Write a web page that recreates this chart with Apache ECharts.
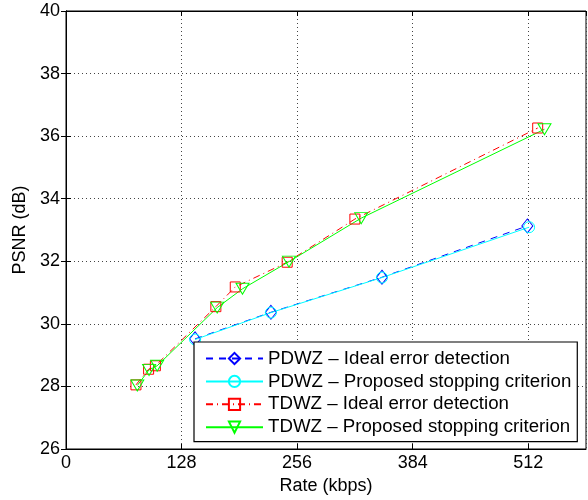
<!DOCTYPE html>
<html>
<head>
<meta charset="utf-8">
<script src="https://cdn.jsdelivr.net/npm/echarts@6/dist/echarts.min.js"></script>
<style>
html, body { margin: 0; padding: 0; background: #fff; }
#main { width: 588px; height: 500px; }
</style>
</head>
<body>
<div id="main"></div>
<script>
// values (rate in kbps, PSNR in dB)
var pdwzIdealRate = [143, 227, 350, 511];
var pdwzIdealPsnr = [29.52, 30.37, 31.49, 33.13];
var pdwzPropRate = [143, 227, 350, 513];
var pdwzPropPsnr = [29.50, 30.36, 31.48, 33.09];
var tdwzIdealRate = [77.5, 91.5, 99, 166, 187.5, 245, 320, 522.5];
var tdwzIdealPsnr = [28.05, 28.55, 28.66, 30.55, 31.18, 31.97, 33.35, 36.26];
var tdwzPropRate = [79, 92, 101, 167.5, 195.5, 247, 327, 530];
var tdwzPropPsnr = [28.03, 28.53, 28.66, 30.52, 31.12, 31.99, 33.38, 36.22];

var seriesNames = [
	'PDWZ \u2013 Ideal error detection',
	'PDWZ \u2013 Proposed stopping criterion',
	'TDWZ \u2013 Ideal error detection',
	'TDWZ \u2013 Proposed stopping criterion'
];

function pairs(xs, ys) {
	var out = [];
	for (var i = 0; i < xs.length; i++) {
		out.push([xs[i], ys[i]]);
	}
	return out;
}

var font = 'Liberation Sans';
var fontSize = 18;

function MakeSeries(name, data, color, lineType, symbol, size) {
	return {
		name : name,
		type : 'line',
		data : data,
		symbol : symbol,
		symbolSize : size,
		showAllSymbol : true,
		itemStyle : {
			color : 'rgba(0,0,0,0)',
			borderColor : color,
			borderWidth : 1
		},
		lineStyle : {
			color : color,
			width : 1,
			type : lineType
		},
		emphasis : { disabled : true }
	};
}

var chart = echarts.init(document.getElementById('main'));
var gridLine = {
	show : true,
	lineStyle : { color : '#444', width : 1, type : [1, 3] }
};
var option = {
	animation : false,
	backgroundColor : '#fff',
	textStyle : { fontFamily : font },
	grid : {
		left : 66,
		right : 2,
		top : 11,
		bottom : 51,
		show : true,
		borderColor : '#000',
		borderWidth : 1
	},
	legend : {
		orient : 'vertical',
		left : 194,
		top : 342,
		itemWidth : 57,
		itemHeight : 14,
		itemGap : 3.9,
		padding : [7, 6, 5, 11],
		backgroundColor : '#fff',
		borderColor : '#000',
		borderWidth : 1.2,
		borderRadius : 0,
		textStyle : { fontFamily : font, fontSize : 18.7, color : '#000' },
		data : seriesNames
	},
	xAxis : [ {
		type : 'value',
		min : 0,
		max : 576,
		interval : 128,
		name : 'Rate (kbps)',
		nameLocation : 'middle',
		nameGap : 27,
		nameTextStyle : { fontFamily : font, fontSize : fontSize, color : '#000' },
		axisLine : { show : true, lineStyle : { color : '#000', width : 1 } },
		axisTick : { show : true, inside : true, length : 5, lineStyle : { color : '#000' } },
		axisLabel : { showMaxLabel : false, margin : 5, fontFamily : font, fontSize : fontSize, color : '#000' },
		splitLine : gridLine
	}, {
		type : 'value',
		position : 'top',
		min : 0,
		max : 576,
		interval : 128,
		axisLine : { show : true, lineStyle : { color : '#000', width : 1 } },
		axisTick : { show : true, inside : true, length : 5, lineStyle : { color : '#000' } },
		axisLabel : { show : false },
		splitLine : { show : false }
	} ],
	yAxis : [ {
		type : 'value',
		min : 26,
		max : 40,
		interval : 2,
		name : 'PSNR (dB)',
		nameLocation : 'middle',
		nameGap : 37,
		nameTextStyle : { fontFamily : font, fontSize : fontSize, color : '#000' },
		axisLine : { show : true, lineStyle : { color : '#000', width : 1 } },
		axisTick : { show : true, inside : true, length : 5, lineStyle : { color : '#000' } },
		axisLabel : { margin : 6, fontFamily : font, fontSize : fontSize, color : '#000' },
		splitLine : gridLine
	}, {
		type : 'value',
		position : 'right',
		min : 26,
		max : 40,
		interval : 2,
		axisLine : { show : true, lineStyle : { color : '#000', width : 1 } },
		axisTick : { show : true, inside : true, length : 5, lineStyle : { color : '#000' } },
		axisLabel : { show : false },
		splitLine : { show : false }
	} ],
	series : [
		MakeSeries(seriesNames[0], pairs(pdwzIdealRate, pdwzIdealPsnr), '#0000ff', [7, 6], 'diamond', [11, 14]),
		MakeSeries(seriesNames[1], pairs(pdwzPropRate, pdwzPropPsnr), '#00ffff', 'solid', 'circle', 11),
		MakeSeries(seriesNames[2], pairs(tdwzIdealRate, tdwzIdealPsnr), '#ff0000', [7, 4, 1, 4], 'rect', 10),
		MakeSeries(seriesNames[3], pairs(tdwzPropRate, tdwzPropPsnr), '#00ff00', 'solid', 'path://M0,0 L12,0 L6,11 Z', [13, 11])
	]
};
chart.setOption(option);
</script>
</body>
</html>
